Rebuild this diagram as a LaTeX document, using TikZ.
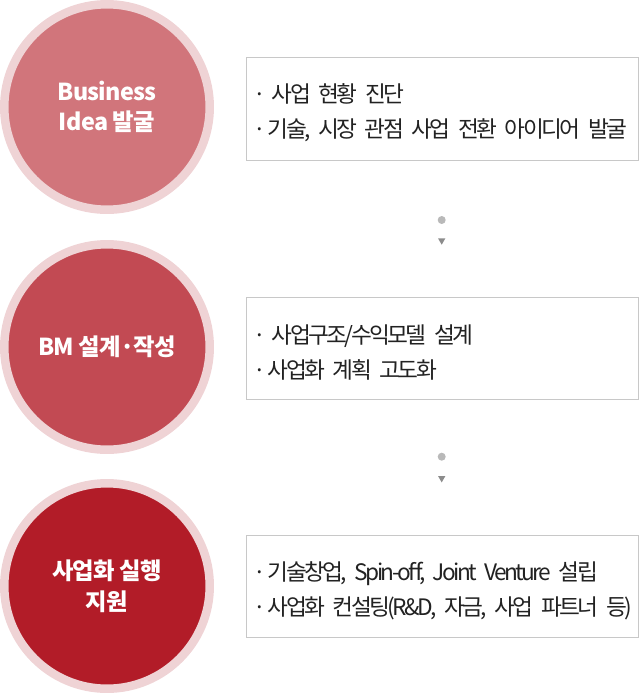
\documentclass[tikz,border=0pt]{standalone}
\usepackage{fontspec}
\setmainfont{Noto Sans CJK KR}[LetterSpace=-3]
\newfontfamily\boxfont{Noto Sans CJK KR}[LetterSpace=-11.5]
\usepackage{tikz}
\usetikzlibrary{shapes.geometric, positioning}

\definecolor{ringpink}{RGB}{239,211,213}
\definecolor{stageA}{RGB}{209,117,123}
\definecolor{stageB}{RGB}{194,74,83}
\definecolor{stageC}{RGB}{178,28,40}
\definecolor{boxline}{RGB}{200,200,200}
\definecolor{bodytext}{RGB}{34,34,34}

\newcommand{\stagefont}{\bfseries\fontsize{17.5pt}{23pt}\selectfont}
\newcommand{\infofont}{\boxfont\fontsize{17pt}{26.25pt}\selectfont}
\newcommand{\topstrut}{\rule{0pt}{20pt}}
% one bullet line: dot, gap, text
\newcommand{\bulline}[2]{\mbox{\makebox[0pt]{·}\hspace{#1}#2}}

\tikzset{
  stage/.style={circle, draw=ringpink, line width=6.375pt, minimum size=154.1pt, inner sep=0pt,
    text=white, align=center, font=\stagefont},
  infobox/.style={rectangle, draw=boxline, line width=0.75pt, fill=white,
    minimum width=293.6pt, minimum height=77pt, inner xsep=10.125pt,
    text width=273.4pt, align=left, text=bodytext, font=\infofont},
  stepdot/.style={circle, fill=gray!55, minimum size=6pt, inner sep=0pt},
  steptip/.style={regular polygon, regular polygon sides=3, shape border rotate=180,
    fill=gray!90, minimum size=6.3pt, inner sep=0pt}
}

\begin{document}
\begin{tikzpicture}[x=0.75pt, y=-0.75pt]
  \useasboundingbox (0,0) rectangle (639,693);
  % stages
  \node[stage, fill=stageA] (idea) at (107,107) {Business\\Idea 발굴};
  \node[stage, fill=stageB] (bm) at (107,347) {BM 설계·작성};
  \node[stage, fill=stageC] (exec) at (107,586) {사업화 실행\\지원};
  % descriptions
  \node[infobox] (box1) at (442.25,109)
    {\topstrut\bulline{9pt}{사업 현황 진단}\\\bulline{6pt}{기술, 시장 관점 사업 전환 아이디어 발굴}};
  \node[infobox] (box2) at (442.25,348.5)
    {\topstrut\bulline{9pt}{사업구조/수익모델 설계}\\\bulline{6pt}{사업화 계획 고도화}};
  \node[infobox] (box3) at (442.25,586.5)
    {\topstrut\bulline{6pt}{기술창업, Spin-off, Joint Venture 설립}\\\bulline{6pt}{사업화 컨설팅(R\&D, 자금, 사업 파트너 등)}};
  % step marks
  \node[stepdot] (dot1) at (441.7,220) {};
  \node[steptip] (tip1) at (441.7,240.5) {};
  \node[stepdot] (dot2) at (441.7,456.7) {};
  \node[steptip] (tip2) at (441.7,478.2) {};
\end{tikzpicture}
\end{document}
